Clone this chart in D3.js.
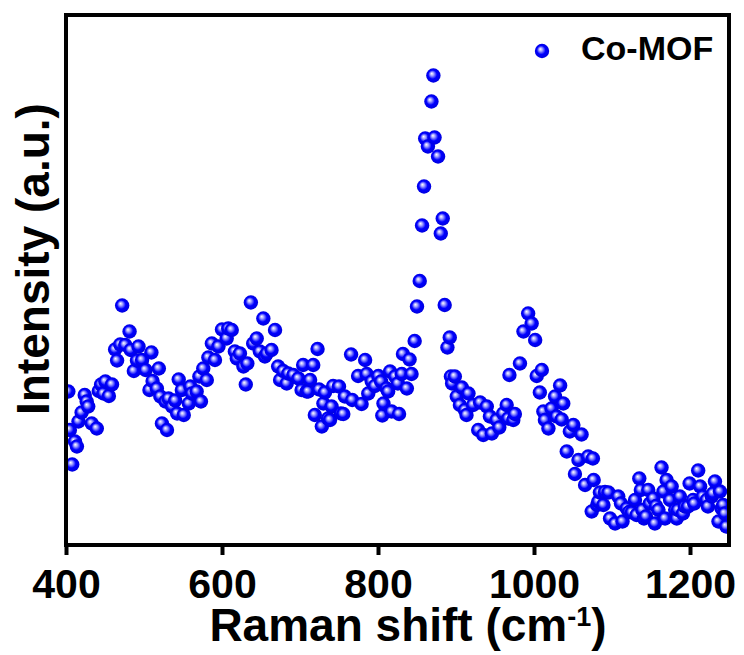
<!DOCTYPE html>
<html>
<head>
<meta charset="utf-8">
<script src="https://cdn.jsdelivr.net/npm/d3@7"></script>
<style>
  html, body { margin: 0; padding: 0; background: #fff; }
  text { font-family: "Liberation Sans", Arial, sans-serif; font-weight: bold; }
</style>
</head>
<body>
<div id="chart"></div>
<script>
// ---- data ----
const shift = [
  403, 405, 408, 411.5, 414, 416, 420, 424, 426.5, 428.5, 433, 439.5, 442, 445, 448, 450.5, 455, 459,
  463, 465.5, 469.5, 472, 476, 481.5, 483, 487, 491, 493, 497.5, 502, 507, 509.5, 511, 516.5, 519, 521,
  523, 527.5, 529.5, 531.5, 536, 540, 542.5, 544.5, 548.5, 551, 557.5, 559.5, 561.5, 567.5, 571, 573,
  576, 580.5, 582.5, 587, 591, 595.5, 600, 606, 608, 612.5, 616.5, 619, 623, 627.5, 630.5, 632.5, 637,
  640, 644.5, 648.5, 653, 655, 657.5, 663.5, 668, 672, 674.5, 678.5, 683, 685, 691.5, 698, 702, 704,
  708.5, 710.5, 713, 717, 719, 722.5, 724.5, 728, 730, 732, 736, 738.5, 740.5, 742.5, 750, 752.5, 755.5,
  757.5, 765.5, 767, 774.5, 779, 783.5, 785.5, 787.5, 792, 796, 800.5, 804, 805.5, 807, 811, 813, 815.5,
  817.5, 822, 825.5, 827, 830.5, 832, 837, 840.5, 843, 847, 850, 853.5, 856.5, 859, 860.5, 864, 868.5,
  871, 872.5, 877, 880.5, 883, 885.5, 889, 892, 893.5, 895, 898.5, 901, 905, 907.5, 911.5, 913.5, 916,
  922, 928.5, 931, 935, 939.5, 943.5, 946, 952, 955.5, 960.5, 965, 967, 968.5, 973.5, 975.5, 982, 986.5,
  992.5, 997, 1001.5, 1003.5, 1007.5, 1010, 1012, 1014, 1018.5, 1022.5, 1027, 1029, 1033.5, 1035.5,
  1037.5, 1042, 1046, 1050.5, 1052.5, 1057, 1061, 1065.5, 1069.5, 1074, 1075.5, 1076.5, 1081, 1082.5,
  1084.5, 1089, 1091, 1095.5, 1097.5, 1104, 1108, 1111.5, 1113.5, 1119, 1122, 1125.5, 1129.5, 1131.5,
  1135, 1137, 1139, 1141, 1143.5, 1146.5, 1148.5, 1153, 1155, 1156.5, 1159.5, 1163.5, 1166, 1168, 1170,
  1174.5, 1176.5, 1181, 1183, 1184.5, 1187, 1191, 1193.5, 1197.5, 1199.5, 1204, 1205.5, 1210.5, 1213,
  1216.5, 1221.5, 1223, 1228, 1229.5, 1232, 1236.5, 1238.5, 1240.5, 1242.5, 1244.5, 1246.5
];
const intensity = [
  307, 230, 161, 207, 197, 247, 265, 300, 287, 277, 243, 233, 308, 321, 303, 327, 298, 321,
  391, 369, 401, 479, 400, 427, 390, 348, 369, 397, 370, 350, 310, 385, 328, 313, 353, 297,
  243, 287, 230, 293, 277, 289, 263, 331, 310, 260, 283, 317, 303, 307, 337, 287,
  353, 330, 375, 403, 370, 397, 431, 413, 433, 430, 387, 373, 383, 357, 321, 363, 485,
  403, 413, 387, 453, 377, 383, 390, 430, 357, 330, 348, 323, 343, 340, 333, 310, 360,
  307, 307, 330, 360, 260, 392, 311, 237, 283, 305, 253, 250, 277, 318, 317, 263, 262,
  297, 381, 290, 338, 282, 370, 342, 303, 327, 318, 338, 327, 259, 283, 313, 307, 347,
  267, 337, 323, 262, 342, 382, 313, 371, 342, 408, 477, 528, 639, 717, 813, 797, 887,
  939, 815, 777, 623, 653, 480, 395, 415, 337, 323, 337, 297, 280, 315, 270, 260, 303,
  280, 230, 285, 220, 277, 257, 223, 250, 235, 263, 280, 253, 340, 250, 262, 363, 427,
  463, 443, 410, 338, 305, 350, 267, 250, 233, 273, 297, 257, 319, 251,
  283, 187, 227, 240, 142, 170, 221, 120, 177, 67, 173, 130, 80, 87,
  105, 80, 106, 105, 53, 43, 97, 83, 47, 73, 66, 65, 90, 60,
  133, 110, 70, 53, 57, 110, 83, 93, 43, 78, 70, 155, 107, 53, 130,
  90, 117, 70, 53, 70, 97, 63, 77, 77, 123, 90, 83, 149, 117,
  97, 90, 77, 97, 103, 127, 47, 107, 73, 80, 63, 37
];
const xTicks = [400, 600, 800, 1000, 1200];
const seriesName = "Co-MOF";

// ---- layout ----
const width = 744, height = 655;
const plot = { left: 66, right: 729, top: 15, bottom: 545 };

const svg = d3.select("#chart").append("svg")
  .attr("width", width)
  .attr("height", height);

const x = d3.scaleLinear().domain([400, 1250]).range([plot.left, plot.right]);
const y = d3.scaleLinear().domain([0, 1060]).range([plot.bottom, plot.top]);

// sphere look
const defs = svg.append("defs");
const grad = defs.append("radialGradient")
  .attr("id", "ball")
  .attr("cx", "0.5").attr("cy", "0.5").attr("r", "0.55")
  .attr("fx", "0.38").attr("fy", "0.36");
grad.append("stop").attr("offset", "0").attr("stop-color", "#ffffff");
grad.append("stop").attr("offset", "0.22").attr("stop-color", "#a8a8ff");
grad.append("stop").attr("offset", "0.55").attr("stop-color", "#0000ff");
grad.append("stop").attr("offset", "1").attr("stop-color", "#0000d8");

defs.append("clipPath").attr("id", "clip")
  .append("rect")
  .attr("x", plot.left).attr("y", plot.top)
  .attr("width", plot.right - plot.left)
  .attr("height", plot.bottom - plot.top);

const pts = shift.map((s, i) => ({ s: s, v: intensity[i] }));

svg.append("g")
  .attr("clip-path", "url(#clip)")
  .selectAll("circle")
  .data(pts)
  .enter()
  .append("circle")
  .attr("cx", d => x(d.s))
  .attr("cy", d => y(d.v))
  .attr("r", 7.2)
  .attr("fill", "url(#ball)");

// frame
svg.append("rect")
  .attr("x", plot.left).attr("y", plot.top)
  .attr("width", plot.right - plot.left)
  .attr("height", plot.bottom - plot.top)
  .attr("fill", "none")
  .attr("stroke", "#000")
  .attr("stroke-width", 4);

// bottom axis
const xAxis = svg.append("g")
  .attr("transform", `translate(0,${plot.bottom})`)
  .call(d3.axisBottom(x).tickValues(xTicks).tickFormat(d3.format("d"))
    .tickSize(10).tickSizeOuter(0).tickPadding(14));
xAxis.select(".domain").remove();
xAxis.selectAll(".tick line").attr("stroke", "#000").attr("stroke-width", 4);
xAxis.selectAll(".tick text")
  .attr("fill", "#000")
  .style("font-size", "41px")
  .style("font-family", "'Liberation Sans', Arial, sans-serif")
  .style("font-weight", "bold");

// axis titles
const xt = svg.append("text")
  .attr("x", 408).attr("y", 641)
  .attr("text-anchor", "middle")
  .style("font-size", "46px");
xt.append("tspan").text("Raman shift (cm");
xt.append("tspan").text("-1").style("font-size", "27px").attr("dy", "-15");
xt.append("tspan").text(")").attr("dy", "15");

svg.append("text")
  .attr("transform", "translate(49,259) rotate(-90)")
  .attr("text-anchor", "middle")
  .style("font-size", "46px")
  .text("Intensity (a.u.)");

// legend
svg.append("circle")
  .attr("cx", 542).attr("cy", 51).attr("r", 7.2)
  .attr("fill", "url(#ball)");
svg.append("text")
  .attr("x", 581).attr("y", 60)
  .style("font-size", "34px")
  .text(seriesName);
</script>
</body>
</html>
